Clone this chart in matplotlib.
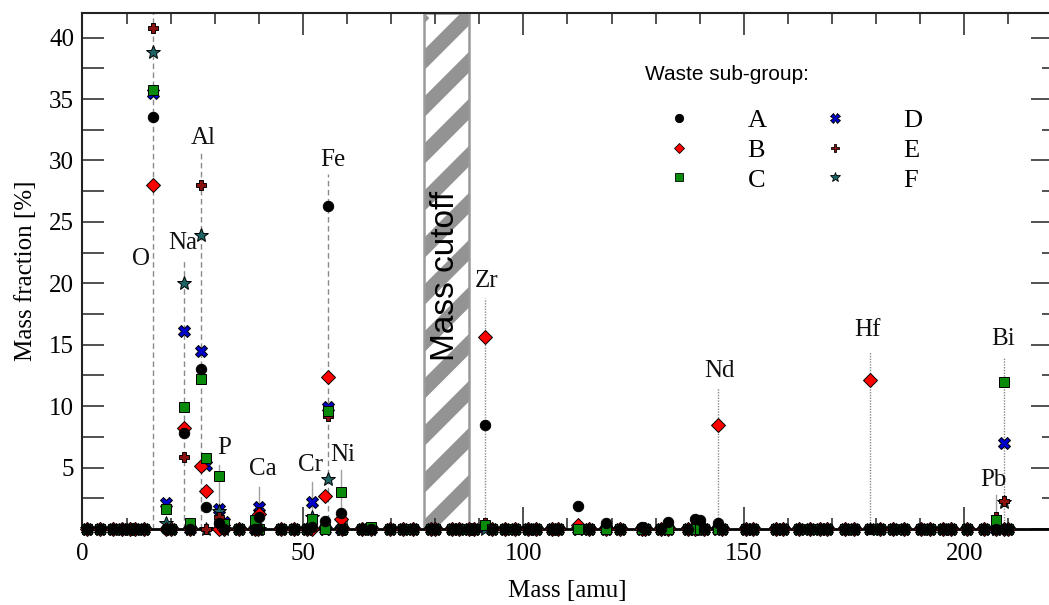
import numpy as np
import matplotlib
matplotlib.use('Agg')
import matplotlib.pyplot as plt
from matplotlib.lines import Line2D
from matplotlib.patches import Rectangle
from matplotlib.ticker import MultipleLocator

# ---------------- data ----------------
elements = ['H', 'He', 'Li', 'Be', 'B', 'C', 'N', 'O', 'F', 'Ne', 'Na', 'Mg', 'Al', 'Si',
            'P', 'S', 'Cl', 'Ar', 'K', 'Ca', 'Sc', 'Ti', 'V', 'Cr', 'Mn', 'Fe', 'Co', 'Ni',
            'Cu', 'Zn', 'Ga', 'Ge', 'As', 'Se', 'Br', 'Kr', 'Rb', 'Sr', 'Y', 'Zr', 'Nb',
            'Mo', 'Tc', 'Ru', 'Rh', 'Pd', 'Ag', 'Cd', 'In', 'Sn', 'Sb', 'Te', 'I', 'Xe',
            'Cs', 'Ba', 'La', 'Ce', 'Pr', 'Nd', 'Pm', 'Sm', 'Eu', 'Gd', 'Tb', 'Dy', 'Ho',
            'Er', 'Tm', 'Yb', 'Lu', 'Hf', 'Ta', 'W', 'Re', 'Os', 'Ir', 'Pt', 'Au', 'Hg',
            'Tl', 'Pb', 'Bi', 'Po']
masses = [1.0, 4.0, 6.9, 9.0, 10.8, 12.0, 14.0, 16.0, 19.0, 20.2, 23.0, 24.3, 27.0, 28.1,
          31.0, 32.1, 35.5, 39.9, 39.1, 40.1, 45.0, 47.9, 50.9, 52.0, 54.9, 55.8, 58.9, 58.7,
          63.5, 65.4, 69.7, 72.6, 74.9, 79.0, 79.9, 83.8, 85.5, 87.6, 88.9, 91.2, 92.9,
          95.9, 98.0, 101.1, 102.9, 106.4, 107.9, 112.4, 114.8, 118.7, 121.8, 127.6, 126.9, 131.3,
          132.9, 137.3, 138.9, 140.1, 140.9, 144.2, 145.0, 150.4, 152.0, 157.3, 158.9, 162.5, 164.9,
          167.3, 168.9, 173.0, 175.0, 178.5, 180.9, 183.8, 186.2, 190.2, 192.2, 195.1, 197.0, 200.6,
          204.4, 207.2, 209.0, 210.0]

# non-zero mass fractions [%] per waste sub-group (all other elements are 0)
group_A = {'O': 33.5, 'Na': 7.8, 'Al': 13.0, 'Si': 1.8, 'P': 0.5, 'Ca': 1.0, 'Cr': 0.2,
           'Mn': 0.65, 'Fe': 26.3, 'Ni': 1.3, 'Zr': 8.5, 'Cd': 1.9, 'Sn': 0.5, 'I': 0.2,
           'Cs': 0.6, 'La': 0.8, 'Ce': 0.7, 'Nd': 0.5}
group_B = {'O': 28.0, 'Na': 8.2, 'Al': 5.1, 'Si': 3.1, 'Ca': 1.2, 'Mn': 2.7, 'Fe': 12.4,
           'Ni': 0.8, 'Zr': 15.6, 'Cd': 0.3, 'Ce': 0.3, 'Nd': 8.5, 'Hf': 12.1}
group_C = {'O': 35.7, 'F': 1.6, 'Na': 9.9, 'Mg': 0.5, 'Al': 12.2, 'Si': 5.8, 'P': 4.3,
           'S': 0.4, 'K': 0.7, 'Cr': 0.8, 'Fe': 9.6, 'Ni': 3.0, 'Zn': 0.2, 'Zr': 0.3,
           'Pb': 0.7, 'Bi': 12.0}
group_D = {'O': 35.5, 'F': 2.1, 'Na': 16.1, 'Al': 14.5, 'Si': 5.2, 'P': 1.6, 'S': 0.6,
           'Ca': 1.8, 'Cr': 2.2, 'Fe': 9.9, 'Zr': 0.2, 'Bi': 7.0}
group_E = {'O': 40.8, 'Na': 5.9, 'Al': 28.0, 'P': 1.0, 'Ca': 1.4, 'Fe': 9.2, 'Zr': 0.5,
           'Pb': 1.0, 'Bi': 2.3}
group_F = {'O': 38.8, 'F': 0.5, 'Na': 20.0, 'Al': 23.9, 'P': 1.5, 'Cr': 1.0, 'Fe': 4.1,
           'Bi': 2.2}

group_names = ['A', 'B', 'C', 'D', 'E', 'F']
group_values = [group_A, group_B, group_C, group_D, group_E, group_F]

# labelled elements: symbol, label centre x, label centre y, guide-line top
label_elems = ['O', 'Na', 'Al', 'Fe', 'P', 'Ca', 'Cr', 'Ni', 'Zr', 'Nd', 'Hf', 'Bi', 'Pb']
label_x = [13.3, 22.8, 27.3, 56.8, 32.1, 41.0, 51.8, 59.1, 91.7, 144.4, 178.1, 208.8, 206.5]
label_y = [22.0, 23.3, 31.8, 30.0, 6.6, 4.9, 5.2, 6.0, 20.2, 12.9, 16.2, 15.5, 4.0]
line_top = [42.0, 21.9, 30.6, 28.9, 5.2, 3.4, 3.8, 4.8, 18.8, 11.5, 14.4, 13.9, 2.8]
line_style = ['--', '--', '--', '--', '-', '-', '-', '-', ':', ':', ':', ':', '-']

cutoff_lo, cutoff_hi = 77.5, 87.7
xmin, xmax = 0, 220
ymin, ymax = 0, 42

# ---------------- style ----------------
W, H, DPI = 1049, 605, 100
serif = ['Liberation Serif', 'DejaVu Serif']
sans = ['Liberation Sans', 'DejaVu Sans']
plt.rcParams['font.family'] = serif

styles = {
    'A': dict(marker='o', color='#000000', ms=7.5),
    'B': dict(marker='D', color='#ff0000', ms=6.8),
    'C': dict(marker='s', color='#0a8a0a', ms=7.0),
    'D': dict(marker='X', color='#0000cc', ms=8.5),
    'E': dict(marker='P', color='#8b1010', ms=7.5),
    'F': dict(marker='*', color='#1f6464', ms=10.0),
}
legend_ms = {'A': 6.0, 'B': 5.2, 'C': 5.6, 'D': 6.5, 'E': 6.0, 'F': 7.5}
draw_order = ['D', 'F', 'E', 'B', 'C', 'A']

fig = plt.figure(figsize=(W / DPI, H / DPI), dpi=DPI)
ax_pos = [82.4 / W, (H - 529) / H, 970.2 / W, 516 / H]
ax = fig.add_axes(ax_pos)
ax.set_xlim(xmin, xmax)
ax.set_ylim(ymin, ymax)

# ---- mass cutoff band (diagonal stripes at 45 degrees on screen) ----
sx = ax_pos[2] * W / (xmax - xmin)   # px per amu
sy = ax_pos[3] * H / (ymax - ymin)   # px per %
rect = Rectangle((cutoff_lo, ymin), cutoff_hi - cutoff_lo, ymax - ymin,
                 facecolor='white', edgecolor='none', zorder=1)
ax.add_patch(rect)
period_px = 47.0
c = cutoff_lo * sx - (ymax - ymin) * sy - period_px
while c < cutoff_hi * sx + period_px:
    xa = c / sx
    xb = (c + (ymax - ymin) * sy) / sx
    ln, = ax.plot([xa, xb], [ymin, ymax], color='#939393', lw=10.5,
                  solid_capstyle='butt', zorder=1.1)
    ln.set_clip_path(rect)
    c += period_px
ax.add_patch(Rectangle((cutoff_lo, ymin), cutoff_hi - cutoff_lo, ymax - ymin,
                       facecolor='none', edgecolor='#9a9a9a', lw=1.8, zorder=1.2))
ax.text((cutoff_lo + cutoff_hi) / 2 - 0.3, 20.6, 'Mass cutoff', rotation=90,
        ha='center', va='center', fontsize=24, family=sans, color='black', zorder=1.3)

# ---- element guide lines and labels ----
mass_of = dict(zip(elements, masses))
for el, lx, ly, top, ls in zip(label_elems, label_x, label_y, line_top, line_style):
    m = mass_of[el]
    if ls == '-':
        ax.plot([m, m], [0, top], color='#a0a0a0', lw=1.0, ls='-', zorder=1.5)
    elif ls == '--':
        ax.plot([m, m], [0, top], color='#8a8a8a', lw=1.0, ls=(0, (4, 2.5)), zorder=1.5)
    else:
        ax.plot([m, m], [0, top], color='#8a8a8a', lw=1.0, ls=(0, (1, 1)), zorder=1.5)
    ax.text(lx, ly, el, ha='center', va='center', fontsize=18, color='#111111')

# ---- data points ----
handles = {}
for g in draw_order:
    vals = group_values[group_names.index(g)]
    y = [vals.get(el, 0.0) for el in elements]
    st = styles[g]
    ax.plot(masses, y, ls='none', marker=st['marker'], ms=st['ms'],
            mfc=st['color'], mec='black', mew=0.7, clip_on=False, zorder=3)
    handles[g] = Line2D([], [], ls='none', marker=st['marker'], ms=legend_ms[g],
                        mfc=st['color'], mec='black', mew=0.6)

# ---- legend ----
fs_leg = 19
fs_px = fs_leg * DPI / 72
leg = ax.legend([handles[g] for g in group_names], group_names, ncol=2,
                loc='upper left',
                bbox_to_anchor=((679 - fs_px - 82.4) / 970.2, (529 - 109) / 516),
                frameon=False, fontsize=fs_leg, handlelength=2.0,
                handletextpad=1.6, columnspacing=1.58, labelspacing=0.23,
                borderpad=0, borderaxespad=0)
ax.text((645 - 82.4) / 970.2, (529 - 74) / 516, 'Waste sub-group:',
        transform=ax.transAxes, ha='left', va='center', fontsize=15, family=sans)

# ---- axes, ticks ----
ax.xaxis.set_major_locator(MultipleLocator(50))
ax.xaxis.set_minor_locator(MultipleLocator(10))
ax.yaxis.set_major_locator(MultipleLocator(5))
ax.yaxis.set_minor_locator(MultipleLocator(2.5))
ax.set_yticks([5, 10, 15, 20, 25, 30, 35, 40])
ax.tick_params(axis='both', which='both', direction='in', labelsize=18, width=1.1,
               color='#222222')
ax.tick_params(axis='x', which='major', length=16, pad=10, top=True)
ax.tick_params(axis='x', which='minor', length=8, top=True)
ax.tick_params(axis='y', which='major', length=16, pad=6, right=False)
ax.tick_params(axis='y', which='minor', length=16, right=False)

sec = ax.secondary_yaxis('right')
sec.yaxis.set_major_locator(MultipleLocator(5))
sec.yaxis.set_minor_locator(MultipleLocator(2.5))
sec.tick_params(axis='y', which='major', direction='in', length=16, width=1.1,
                labelright=False, color='#222222')
sec.tick_params(axis='y', which='minor', direction='in', length=8, width=1.1,
                color='#222222')
sec.spines['right'].set_linewidth(1.5)

for sp in ax.spines.values():
    sp.set_linewidth(1.5)
    sp.set_color('#222222')
ax.spines['bottom'].set_color('black')
ax.spines['bottom'].set_linewidth(2.0)

ax.set_xlabel('Mass [amu]', fontsize=18, labelpad=11)
ax.set_ylabel('Mass fraction [%]', fontsize=18, labelpad=9)

fig.savefig('out.png', dpi=DPI)
